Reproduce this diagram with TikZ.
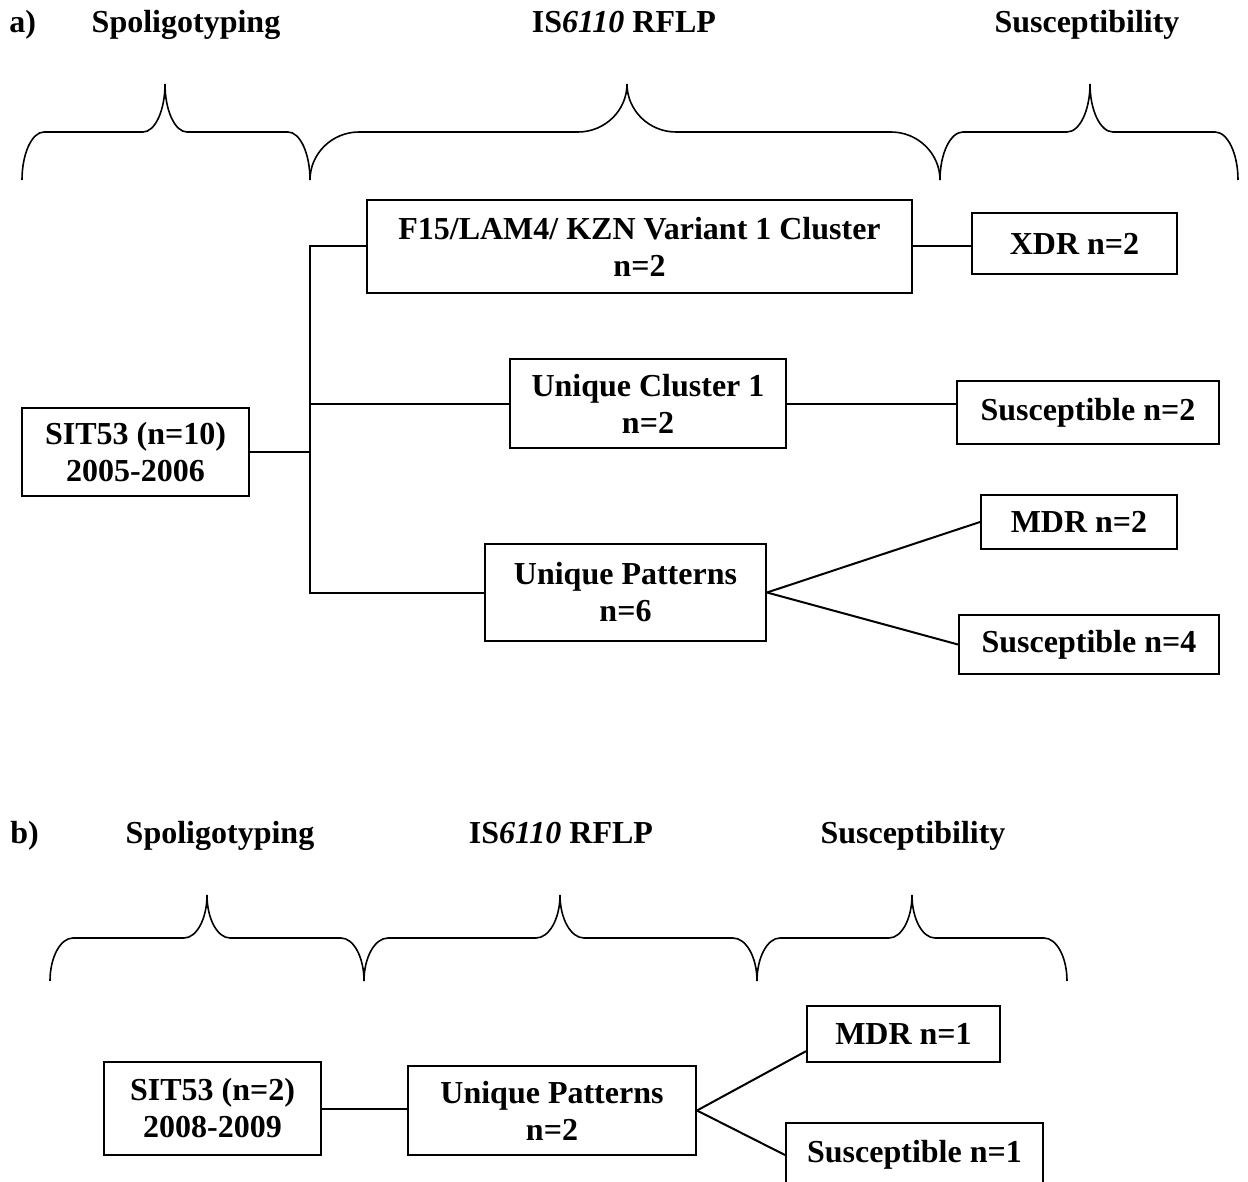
\documentclass[tikz,border=0pt]{standalone}
\usepackage{fontspec}
\setmainfont{Liberation Serif}
\usetikzlibrary{positioning}

\newcommand{\Brace}[6]{%
  \draw[brace] (#1,#4) .. controls (#1,#4-0.55*#5) and (#1+0.45*#6,#4-#5) .. (#1+#6,#4-#5)
    -- (#2-#6,#4-#5) .. controls (#2-0.45*#6,#4-#5) and (#2,#4-1.45*#5) .. (#2,#4-2*#5)
    .. controls (#2,#4-1.45*#5) and (#2+0.45*#6,#4-#5) .. (#2+#6,#4-#5)
    -- (#3-#6,#4-#5) .. controls (#3-0.45*#6,#4-#5) and (#3,#4-0.55*#5) .. (#3,#4);}

\begin{document}
\begin{tikzpicture}[x=0.5pt,y=-0.5pt,
    box/.style={draw,line width=1pt,align=center,inner sep=0pt,
      font=\fontsize{16}{18.5}\selectfont\bfseries},
    head/.style={anchor=base,inner sep=0pt,font=\fontsize{16}{18.5}\selectfont\bfseries},
    brace/.style={line width=0.8pt},
    link/.style={line width=1pt}]
    \useasboundingbox (0,0) rectangle (1248,1182);

    \node[head,anchor=base west] (ha) at (9,33) {a)};
    \node[head] (spa) at (186,33) {Spoligotyping};
    \node[head] (rfa) at (624,33) {IS\textit{6110} RFLP};
    \node[head] (sua) at (1087,33) {Susceptibility};
    \Brace{22}{165}{310}{180}{48}{22}
    \Brace{310}{627}{940}{180}{48}{49}
    \Brace{940}{1090}{1238}{180}{48}{23}

    \node[box,minimum width=113.5pt,minimum height=44pt] (sit) at (135.5,452) {SIT53 (n=10)\\2005-2006};
    \node[box,minimum width=272.5pt,minimum height=46.5pt] (f15) at (639.5,246.5) {F15/LAM4/ KZN Variant 1 Cluster\\n=2};
    \node[box,minimum width=102.5pt,minimum height=30.5pt] (xdr) at (1074.5,243.5) {XDR n=2};
    \node[box,minimum width=138pt,minimum height=44.5pt] (uc) at (648,403.5) {Unique Cluster 1\\n=2};
    \node[box,minimum width=131pt,minimum height=31.5pt] (susa) at (1088,412.5) {Susceptible n=2};
    \node[box,minimum width=140.5pt,minimum height=48.5pt] (up) at (625.5,592.5) {Unique Patterns\\n=6};
    \node[box,minimum width=98pt,minimum height=27pt] (mdra) at (1079,522) {MDR n=2};
    \node[box,minimum width=130pt,minimum height=29.5pt] (susb) at (1089,644.5) {Susceptible n=4};

    \coordinate (fork) at (310,452);
    \draw[link] (sit.east) -- (fork);
    \draw[link] (f15.west) -| (fork |- up.west) -- (up.west);
    \draw[link] (fork |- uc.west) -- (uc.west);
    \draw[link] (f15.east) -- (f15.east -| xdr.west);
    \draw[link] (uc.east) -- (uc.east -| susa.west);
    \draw[link] (up.east) -- (mdra.west);
    \draw[link] (up.east) -- (susb.west);

    \node[head,anchor=base west] (hb) at (10,843) {b)};
    \node[head] (spb) at (220,843) {Spoligotyping};
    \node[head] (rfb) at (561,843) {IS\textit{6110} RFLP};
    \node[head] (sub) at (913,843) {Susceptibility};
    \Brace{50}{207}{364}{981}{43}{23}
    \Brace{364}{560}{757}{981}{43}{24}
    \Brace{757}{912}{1067}{981}{43}{23}

    \node[box,minimum width=108.5pt,minimum height=46.5pt] (sitb) at (212.5,1108.5) {SIT53 (n=2)\\2008-2009};
    \node[box,minimum width=144pt,minimum height=44.5pt] (upb) at (552,1110.5) {Unique Patterns\\n=2};
    \node[box,minimum width=96.5pt,minimum height=28pt] (mdrb) at (903.5,1034) {MDR n=1};
    \node[box,minimum width=128.5pt,minimum height=32pt] (susc) at (914.5,1155) {Susceptible n=1};

    \draw[link] (sitb.east) -- (sitb.east -| upb.west);
    \draw[link] (upb.east) -- (mdrb.190);
    \draw[link] (upb.east) -- (susc.west);
\end{tikzpicture}
\end{document}
